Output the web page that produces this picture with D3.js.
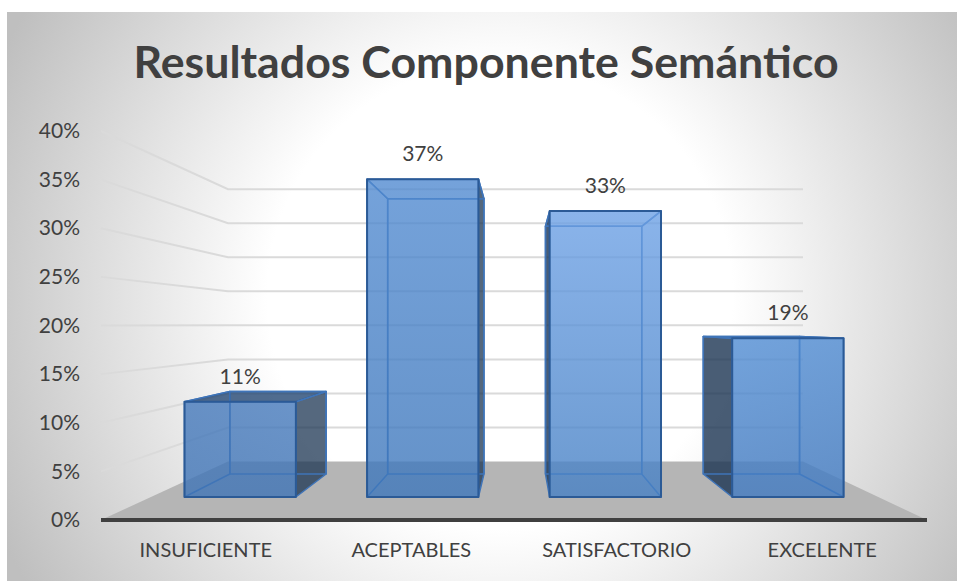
<!DOCTYPE html>
<html>
<head>
<meta charset="utf-8">
<script src="https://cdn.jsdelivr.net/npm/d3@7"></script>
<style>
  body { margin: 0; background: #fff; }
  text { font-family: Lato, "Open Sans", sans-serif; fill: #404040; }
</style>
</head>
<body>
<svg id="chart" width="957" height="581" style="display:block"></svg>
<script>
var categories = ["INSUFICIENTE", "ACEPTABLES", "SATISFACTORIO", "EXCELENTE"]
var values = [0.1111, 0.3704, 0.3333, 0.1852]
var yTicks = [0, 0.05, 0.1, 0.15, 0.2, 0.25, 0.3, 0.35, 0.4]
// front face shading of each bar, the picture has them differ a bit
var topColors = ["#4579bb", "#528bd1", "#6da1e5", "#508cd3"]
var bottomColors = ["#3f74b6", "#3e77bb", "#4680c4", "#417ac1"]

var svg = d3.select("#chart")
var defs = svg.append("defs")

// chart background
var bg = defs.append("radialGradient").attr("id", "bg")
  .attr("gradientUnits", "userSpaceOnUse")
  .attr("cx", 500).attr("cy", 296).attr("r", 554)
bg.append("stop").attr("offset", "42%").attr("stop-color", "#ffffff")
bg.append("stop").attr("offset", "100%").attr("stop-color", "#bfbfbf")
svg.append("rect").attr("x", 7).attr("y", 12).attr("width", 950).attr("height", 569)
  .attr("fill", "url(#bg)")

svg.append("text").attr("x", 486).attr("y", 78)
  .attr("text-anchor", "middle")
  .style("font-size", "44.7px").style("font-weight", "bold")
  .text("Resultados Componente Semántico")

// the scale on the front edge of the floor
var y = d3.scaleLinear().domain([0, 0.4]).range([520, 131])
var xBar = d3.scaleBand().domain(categories).range([-0.004, 1.0025])
  .paddingInner(0.39).paddingOuter(0.2)
var xLabel = d3.scaleBand().domain(categories).range([103, 925])

// 3d projection: u across the floor, v value, t depth (0 front, 1 back wall)
var horizon = 325
var left = d3.scaleLinear().domain([0, 1]).range([101, 228])
var right = d3.scaleLinear().domain([0, 1]).range([927, 803])
var shrink = d3.scaleLinear().domain([0, 1]).range([1, 0.7])
function project(u, v, t) {
  return [
    left(t) + u * (right(t) - left(t)),
    horizon + (y(v) - horizon) * shrink(t)
  ]
}
function poly(points) { return points.join(" ") }

// floor
svg.append("polygon")
  .attr("points", poly([project(0, 0, 0), project(1, 0, 0), project(1, 0, 1), project(0, 0, 1)]))
  .attr("fill", "#b5b5b5")

// gridlines on the left wall and back wall
svg.selectAll("gridLines")
  .data(yTicks.filter(function (d) { return d > 0 }))
  .enter()
  .append("polyline")
  .attr("points", function (d) { return poly([project(0, d, 0), project(0, d, 1), project(1, d, 1)]) })
  .attr("fill", "none")
  .attr("stroke", "#dadada")
  .attr("stroke-width", 2)

// axis line
svg.append("line")
  .attr("x1", 101).attr("x2", 927).attr("y1", y(0)).attr("y2", y(0))
  .attr("stroke", "#404040").attr("stroke-width", 4)

// bars
var tFront = 0.393, tBack = 0.786
var bars = svg.selectAll("bars")
  .data(categories)
  .enter()
  .append("g")

bars.each(function (c, i) {
  var g = defs.append("linearGradient").attr("id", "front" + i)
    .attr("x1", 0).attr("x2", 0).attr("y1", 0).attr("y2", 1)
  g.append("stop").attr("offset", "0%").attr("stop-color", topColors[i])
  g.append("stop").attr("offset", "100%").attr("stop-color", bottomColors[i])
})

// inner edges stay thin and pale, only faces that stick out of the front are dark
function face(fill, opacity, stroke, width, corners) {
  bars.append("polygon")
    .attr("points", function (c, i) {
      var u0 = xBar(c), u1 = u0 + xBar.bandwidth()
      return poly(corners(u0, u1, values[i]))
    })
    .attr("fill", fill)
    .attr("fill-opacity", opacity)
    .attr("stroke", stroke)
    .attr("stroke-width", width)
    .attr("stroke-linejoin", "round")
}
function sticksOutLeft(c) {
  return project(xBar(c), 0, tBack)[0] < project(xBar(c), 0, tFront)[0]
}
function sticksOutRight(c) {
  var u = xBar(c) + xBar.bandwidth()
  return project(u, 0, tBack)[0] > project(u, 0, tFront)[0]
}
function sticksOutTop(c, i) {
  return project(0, values[i], tBack)[1] < project(0, values[i], tFront)[1]
}
var dark = "#1c3553", edge = "#2b5a96", inner = "#3f74b8"

face(function (c) { return sticksOutLeft(c) ? dark : "none" }, 0.8, inner, 1.5, function (a, b, v) {
  return [project(a, 0, tFront), project(a, 0, tBack), project(a, v, tBack), project(a, v, tFront)]
})
face(function (c) { return sticksOutRight(c) ? dark : "none" }, 0.75, inner, 1.5, function (a, b, v) {
  return [project(b, 0, tFront), project(b, 0, tBack), project(b, v, tBack), project(b, v, tFront)]
})
face(function (c, i) { return sticksOutTop(c, i) ? "#1f4270" : "none" }, 0.78, inner, 1.5, function (a, b, v) {
  return [project(a, v, tFront), project(b, v, tFront), project(b, v, tBack), project(a, v, tBack)]
})
face("none", 1, inner, 1.5, function (a, b, v) {
  return [project(a, 0, tBack), project(b, 0, tBack), project(b, v, tBack), project(a, v, tBack)]
})
face(function (c, i) { return "url(#front" + i + ")" }, 0.8, edge, 2, function (a, b, v) {
  return [project(a, 0, tFront), project(b, 0, tFront), project(b, v, tFront), project(a, v, tFront)]
})

// data labels
bars.append("text")
  .attr("x", function (c) { return project(xBar(c) + xBar.bandwidth() / 2, 0, tFront)[0] })
  .attr("y", function (c, i) { return project(0, values[i], tFront)[1] - 18 })
  .attr("text-anchor", "middle")
  .style("font-size", "21px")
  .text(function (c, i) { return d3.format(".0%")(values[i]) })

// axes
var yAxis = svg.append("g").attr("transform", "translate(83,0)")
  .call(d3.axisLeft(y).tickValues(yTicks).tickFormat(d3.format(".0%")).tickSize(0))
yAxis.select(".domain").remove()
yAxis.selectAll("text").style("font-size", "21px")

var xAxis = svg.append("g").attr("transform", "translate(0,540)")
  .call(d3.axisBottom(xLabel).tickSize(0))
xAxis.select(".domain").remove()
xAxis.selectAll("text").style("font-size", "20px")
</script>
</body>
</html>
